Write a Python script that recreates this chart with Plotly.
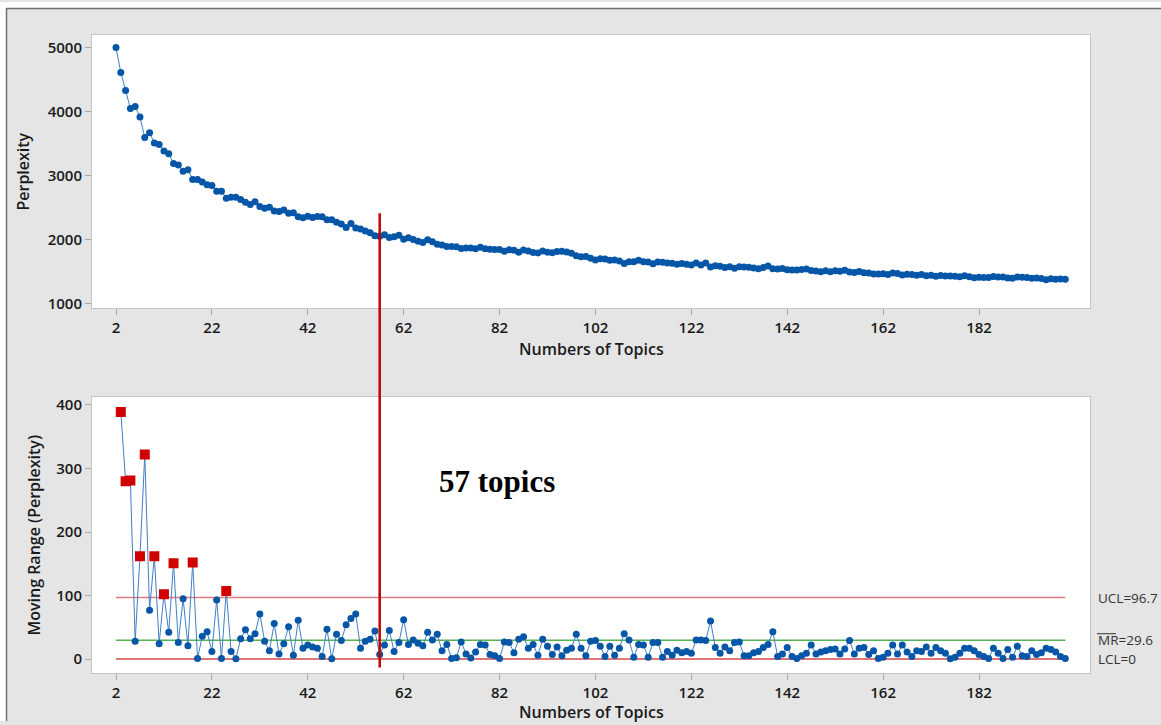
import plotly.graph_objects as go

# ---------------- data ----------------
topics = list(range(2, 201))

perplexity = [
    5000, 4611, 4331, 4050, 4078, 3916, 3594, 3671, 3509, 3485,
    3383, 3341, 3190, 3164, 3069, 3090, 2938, 2937, 2901, 2858,
    2846, 2753, 2754, 2647, 2659, 2659, 2627, 2581, 2549, 2589,
    2518, 2490, 2503, 2447, 2439, 2463, 2412, 2418, 2357, 2340,
    2362, 2343, 2360, 2356, 2309, 2309, 2270, 2241, 2187, 2251,
    2180, 2163, 2135, 2104, 2060, 2053, 2075, 2030, 2042, 2068,
    2006, 2029, 1999, 1974, 1953, 1995, 1965, 1926, 1913, 1890,
    1889, 1887, 1860, 1868, 1866, 1855, 1878, 1856, 1849, 1844,
    1843, 1816, 1842, 1832, 1801, 1836, 1819, 1796, 1790, 1821,
    1801, 1794, 1813, 1818, 1804, 1787, 1748, 1731, 1736, 1708,
    1679, 1699, 1695, 1675, 1681, 1664, 1624, 1654, 1651, 1674,
    1652, 1649, 1623, 1649, 1646, 1634, 1628, 1614, 1624, 1612,
    1603, 1633, 1603, 1632, 1572, 1590, 1581, 1562, 1575, 1549,
    1576, 1571, 1566, 1556, 1544, 1562, 1585, 1542, 1538, 1546,
    1528, 1524, 1525, 1530, 1539, 1517, 1509, 1498, 1511, 1496,
    1512, 1504, 1520, 1491, 1483, 1500, 1482, 1475, 1462, 1461,
    1464, 1455, 1477, 1469, 1447, 1458, 1454, 1441, 1453, 1434,
    1443, 1425, 1438, 1429, 1429, 1426, 1417, 1434, 1417, 1404,
    1411, 1407, 1406, 1423, 1414, 1413, 1398, 1395, 1415, 1410,
    1406, 1393, 1400, 1390, 1373, 1388, 1377, 1381, 1380,
]

mr_topics = topics[1:]
moving_range = [
    389, 280, 281, 28, 162, 322, 77, 162, 24, 102,
    42, 151, 26, 95, 21, 152, 1, 36, 43, 12,
    93, 1, 107, 12, 0.5, 32, 46, 32, 40, 71,
    28, 13, 56, 8, 24, 51, 6, 61, 17, 22,
    19, 17, 4, 47, 0.3, 39, 29, 54, 64, 71,
    17, 28, 31, 44, 7, 22, 45, 12, 26, 62,
    23, 30, 25, 21, 42, 30, 39, 13, 23, 1,
    2, 27, 8, 1.5, 11, 23, 22, 7, 5, 1,
    27, 26, 10, 31, 35, 17, 23, 6, 31, 20,
    7, 19, 5, 14, 17, 39, 17, 5, 28, 29,
    20, 4, 20, 6, 17, 40, 30, 3, 23, 22,
    3, 26, 26, 3, 12, 6, 14, 10, 12, 9,
    30, 30, 29, 60, 18, 9, 19, 13, 26, 27,
    5, 5, 10, 12, 18, 23, 43, 4, 8, 18,
    4, 1, 5, 9, 22, 8, 11, 13, 15, 16,
    8, 16, 29, 8, 17, 18, 7, 13, 1, 3,
    9, 22, 8, 22, 11, 4, 13, 12, 19, 9,
    18, 13, 9, 0.3, 3, 9, 17, 17, 13, 7,
    4, 1, 17, 9, 1, 15, 3, 20, 5, 4,
    13, 7, 10, 17, 15, 11, 4, 1,
]

ucl = 96.7
mr_bar = 29.6
lcl = 0
selected_topics = 57

x_ticks = [2, 22, 42, 62, 82, 102, 122, 142, 162, 182]
perp_ticks = [1000, 2000, 3000, 4000, 5000]
mr_ticks = [0, 100, 200, 300, 400]

# ---------------- styling ----------------
W, H = 1161, 725
def fx(p):
    return p / W
def fy(p):
    return 1 - p / H

BLUE = "#0656a8"
LINE_BLUE = "#3f7fc6"
RED_PT = "#d00000"
TXT = "#1a1a1a"
FONT = "Open Sans"

ooc_x = [t for t, m in zip(mr_topics, moving_range) if m > ucl]
ooc_y = [m for m in moving_range if m > ucl]

fig = go.Figure()

fig.add_trace(go.Scatter(
    x=topics, y=perplexity, mode="lines+markers",
    line=dict(color=LINE_BLUE, width=1),
    marker=dict(color=BLUE, size=7),
    xaxis="x", yaxis="y", showlegend=False, name="Perplexity"))

# control limit lines
fig.add_trace(go.Scatter(x=[topics[0], topics[-1]], y=[ucl, ucl], mode="lines",
                         line=dict(color="#e07c80", width=1.5),
                         xaxis="x2", yaxis="y2", showlegend=False))
fig.add_trace(go.Scatter(x=[topics[0], topics[-1]], y=[mr_bar, mr_bar], mode="lines",
                         line=dict(color="#55b255", width=1.5),
                         xaxis="x2", yaxis="y2", showlegend=False))
fig.add_trace(go.Scatter(x=[topics[0], topics[-1]], y=[lcl, lcl], mode="lines",
                         line=dict(color="#d24a4a", width=1.5),
                         xaxis="x2", yaxis="y2", showlegend=False))

fig.add_trace(go.Scatter(
    x=mr_topics, y=moving_range, mode="lines+markers",
    line=dict(color=LINE_BLUE, width=1),
    marker=dict(color=BLUE, size=7),
    xaxis="x2", yaxis="y2", showlegend=False, name="Moving Range"))

fig.add_trace(go.Scatter(
    x=ooc_x, y=ooc_y, mode="markers",
    marker=dict(color=RED_PT, size=10, symbol="square"),
    xaxis="x2", yaxis="y2", showlegend=False))

axis_common = dict(
    showgrid=False, zeroline=False, showline=True, mirror=True,
    linecolor="#c4c4c4", linewidth=1,
    ticks="outside", ticklen=6, tickcolor="#a8a8a8", tickwidth=1,
    tickfont=dict(family=FONT, size=15, color=TXT, weight=600),
)

x_range = [-3.006, 205.15]

fig.update_layout(
    width=W, height=H, autosize=False,
    margin=dict(l=0, r=0, t=0, b=0),
    paper_bgcolor="#e5e5e5", plot_bgcolor="white",
    xaxis=dict(domain=[fx(92), fx(1090)], range=x_range, anchor="y",
               tickvals=x_ticks, **axis_common),
    yaxis=dict(domain=[fy(309), fy(33)], range=[922.5, 5201.5], anchor="x",
               tickvals=perp_ticks, **axis_common),
    xaxis2=dict(domain=[fx(92), fx(1090)], range=x_range, anchor="y2",
                tickvals=x_ticks, **axis_common),
    yaxis2=dict(domain=[fy(677), fy(398)], range=[-22.6, 413], anchor="x2",
                tickvals=mr_ticks, **axis_common),
)

shapes = [
    # white strips + dark frame edge of the screenshot
    dict(type="rect", xref="paper", yref="paper", x0=0, x1=fx(6), y0=0, y1=1,
         fillcolor="white", line=dict(width=0), layer="below"),
    dict(type="rect", xref="paper", yref="paper", x0=0, x1=1, y0=fy(6), y1=1,
         fillcolor="white", line=dict(width=0), layer="below"),
    dict(type="line", xref="paper", yref="paper", x0=fx(6), x1=1, y0=fy(6.5), y1=fy(6.5),
         line=dict(color="#6f6f6f", width=1.5)),
    dict(type="line", xref="paper", yref="paper", x0=fx(6.5), x1=fx(6.5), y0=0, y1=fy(6),
         line=dict(color="#6f6f6f", width=1.5)),
    # selected number of topics
    dict(type="line", xref="x", yref="paper", x0=selected_topics, x1=selected_topics,
         y0=fy(671), y1=fy(213), line=dict(color="#c40000", width=2.5)),
    # bar over "MR" in the centre-line label
    dict(type="line", xref="paper", yref="paper", x0=fx(1097), x1=fx(1116),
         y0=fy(637), y1=fy(637), line=dict(color="#333333", width=1)),
]
fig.update_layout(shapes=shapes)

title_font = dict(family=FONT, size=16, color=TXT, weight=600)
label_font = dict(family=FONT, size=13.5, color="#333333")
annotations = [
    dict(text="Perplexity", x=fx(23), y=fy(171), xref="paper", yref="paper",
         xanchor="center", yanchor="middle",
         textangle=-90, showarrow=False, font=title_font),
    dict(text="Moving Range (Perplexity)", x=fx(34), y=fy(538), xref="paper", yref="paper",
         xanchor="center", yanchor="middle",
         textangle=-90, showarrow=False, font=title_font),
    dict(text="Numbers of Topics", x=fx(591), y=fy(350), xref="paper", yref="paper",
         xanchor="center", yanchor="middle", showarrow=False, font=title_font),
    dict(text="Numbers of Topics", x=fx(591), y=fy(716), xref="paper", yref="paper",
         xanchor="center", yanchor="middle", showarrow=False, font=title_font),
    dict(text=f"<b>{selected_topics} topics</b>", x=fx(497), y=fy(484), xref="paper", yref="paper",
         xanchor="center", yanchor="middle",
         showarrow=False, font=dict(family="Liberation Serif", size=31, color="black")),
    dict(text=f"UCL={ucl}", x=fx(1096), y=ucl, xref="paper", yref="y2",
         xanchor="left", yanchor="middle", showarrow=False, font=label_font),
    dict(text=f"MR={mr_bar}", x=fx(1096), y=mr_bar, xref="paper", yref="y2",
         xanchor="left", yanchor="middle", showarrow=False, font=label_font),
    dict(text=f"LCL={lcl}", x=fx(1096), y=lcl, xref="paper", yref="y2",
         xanchor="left", yanchor="middle", showarrow=False, font=label_font),
]
fig.update_layout(annotations=annotations)

fig.write_html("out.html")
